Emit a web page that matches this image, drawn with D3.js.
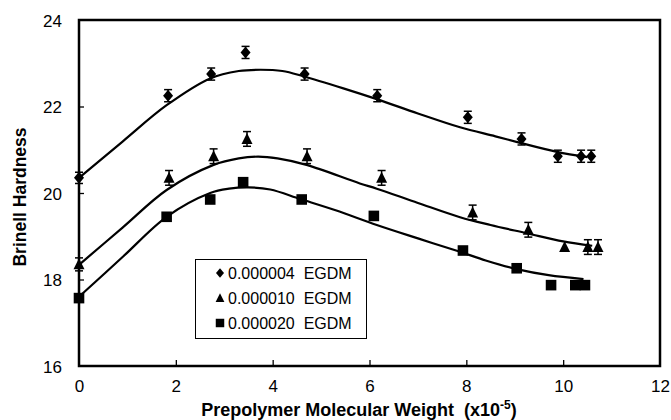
<!DOCTYPE html>
<html><head><meta charset="utf-8">
<script src="https://cdn.jsdelivr.net/npm/d3@7"></script>
<style>body{margin:0;background:#fff}svg{display:block}text{font-family:Arial,"Liberation Sans",sans-serif}</style>
</head><body><svg id="c" width="671" height="420"></svg>
<script>
// ---- data ----
const seriesNames = ["0.000004  EGDM", "0.000010  EGDM", "0.000020  EGDM"];
const xDiamond = [0, 1.84, 2.73, 3.44, 4.66, 6.16, 8.03, 9.14, 9.89, 10.37, 10.58];
const yDiamond = [20.35, 22.25, 22.75, 23.25, 22.75, 22.25, 21.75, 21.25, 20.85, 20.85, 20.85];
const eDiamond = [0.13, 0.14, 0.14, 0.14, 0.14, 0.14, 0.14, 0.14, 0.14, 0.14, 0.14];
const xTriangle = [0, 1.86, 2.78, 3.47, 4.71, 6.25, 8.13, 9.28, 10.03, 10.51, 10.72];
const yTriangle = [18.35, 20.35, 20.85, 21.25, 20.85, 20.35, 19.55, 19.15, 18.75, 18.75, 18.75];
const eTriangle = [0.15, 0.17, 0.17, 0.17, 0.17, 0.17, 0.17, 0.17, 0.0, 0.17, 0.17];
const xSquare = [0, 1.81, 2.71, 3.39, 4.60, 6.09, 7.93, 9.04, 9.75, 10.25, 10.45];
const ySquare = [17.57, 19.45, 19.85, 20.25, 19.85, 19.47, 18.67, 18.26, 17.87, 17.87, 17.87];
// fitted trend curves
const fitXDiamond = [0, 0.9, 1.81, 2.71, 3.3, 3.75, 4.2, 4.63, 5.46, 6.15, 7.0, 7.87, 8.6, 9.11, 9.87, 10.5];
const fitYDiamond = [20.35, 21.19, 22.03, 22.65, 22.82, 22.85, 22.82, 22.7, 22.42, 22.17, 21.84, 21.52, 21.31, 21.16, 20.95, 20.83];
const fitXTriangle = [0, 0.9, 1.81, 2.78, 3.3, 3.7, 4.1, 4.7, 5.8, 6.15, 7.0, 7.87, 8.5, 9.25, 10.0, 10.6];
const fitYTriangle = [18.34, 19.2, 20.07, 20.65, 20.8, 20.84, 20.8, 20.65, 20.22, 20.1, 19.77, 19.44, 19.26, 19.07, 18.88, 18.78];
const fitXSquare = [0, 0.9, 1.81, 2.71, 3.1, 3.5, 3.95, 4.57, 5.3, 6.15, 7.0, 7.87, 8.4, 9.04, 9.7, 10.42];
const fitYSquare = [17.6, 18.52, 19.45, 20.0, 20.1, 20.13, 20.08, 19.86, 19.6, 19.26, 18.95, 18.64, 18.44, 18.24, 18.1, 18.01];
const xTicks = [0, 2, 4, 6, 8, 10, 12];
const yTicks = [16, 18, 20, 22, 24];

// ---- layout ----
const L = 79, R = 660, T = 20, B = 366;
const svg = d3.select("#c");
const x = d3.scaleLinear().domain([0, 12]).range([L, R]);
const y = d3.scaleLinear().domain([16, 24]).range([B, T]);

// axes with inward ticks
const gx = svg.append("g").attr("transform", `translate(0,${B})`)
  .call(d3.axisBottom(x).tickValues(xTicks).tickSizeInner(-6).tickSizeOuter(0).tickPadding(26));
const gy = svg.append("g").attr("transform", `translate(${L},0)`)
  .call(d3.axisLeft(y).tickValues(yTicks).tickSizeInner(-5).tickSizeOuter(0).tickPadding(17));
[gx, gy].forEach(g => {
  g.select(".domain").remove();
  g.selectAll(".tick line").attr("stroke", "#000").attr("stroke-width", 1.3);
  g.selectAll(".tick text").attr("fill", "#000").style("font-size", "17px")
    .style("font-family", "Arial, 'Liberation Sans', sans-serif");
});
gx.selectAll(".tick text").attr("dy", "0");
gy.selectAll(".tick text").attr("dy", "0.36em");
gx.selectAll(".tick").filter(d => d === 0 || d === 12).select("line").remove();
gy.selectAll(".tick").filter(d => d === 16 || d === 24).select("line").remove();

// frame
svg.append("rect").attr("x", L).attr("y", T).attr("width", R - L).attr("height", B - T)
  .attr("fill", "none").attr("stroke", "#000").attr("stroke-width", 2.5);

// curves
const line = d3.line().x(d => x(d[0])).y(d => y(d[1])).curve(d3.curveCatmullRom.alpha(0.5));
[[fitXDiamond, fitYDiamond], [fitXTriangle, fitYTriangle], [fitXSquare, fitYSquare]].forEach(([fx, fy]) => {
  svg.append("path").datum(d3.zip(fx, fy)).attr("d", line)
    .attr("fill", "none").attr("stroke", "#000").attr("stroke-width", 2.2);
});

// marker shapes
function shape(kind, s) {
  if (kind === 0) return `M0,${-6*s}L${5*s},0L0,${6*s}L${-5*s},0Z`;
  if (kind === 1) return `M0,${-6*s}L${5.5*s},${5*s}L${-5.5*s},${5*s}Z`;
  return `M${-5.3*s},${-5.3*s}H${5.3*s}V${5.3*s}H${-5.3*s}Z`;
}

// error bars
function errBars(xs, ys, es) {
  const g = svg.append("g").attr("stroke", "#000").attr("stroke-width", 1.5);
  xs.forEach((xv, i) => {
    const e = es[i]; if (!e) return;
    const cx = x(xv), y1 = y(ys[i] + e), y2 = y(ys[i] - e);
    g.append("line").attr("x1", cx).attr("x2", cx).attr("y1", y1).attr("y2", y2);
    g.append("line").attr("x1", cx - 4).attr("x2", cx + 4).attr("y1", y1).attr("y2", y1);
    g.append("line").attr("x1", cx - 4).attr("x2", cx + 4).attr("y1", y2).attr("y2", y2);
  });
}
errBars(xDiamond, yDiamond, eDiamond);
errBars(xTriangle, yTriangle, eTriangle);

[[xDiamond, yDiamond], [xTriangle, yTriangle], [xSquare, ySquare]].forEach(([xs, ys], k) => {
  svg.append("g").selectAll("path").data(d3.zip(xs, ys)).join("path")
    .attr("d", shape(k, 1)).attr("fill", "#000")
    .attr("transform", d => `translate(${x(d[0])},${y(d[1])})`);
});

// axis titles
svg.append("text").attr("transform", "translate(26,197) rotate(-90)")
  .attr("text-anchor", "middle").style("font-size", "17.5px").style("font-weight", "bold")
  .text("Brinell Hardness");
const xt = svg.append("text").attr("x", 359).attr("y", 416).attr("text-anchor", "middle")
  .style("font-size", "18px").style("font-weight", "bold");
xt.append("tspan").text("Prepolymer Molecular Weight  (x10").attr("xml:space", "preserve").style("white-space", "pre");
xt.append("tspan").text("-5").attr("dy", -7).style("font-size", "12px");
xt.append("tspan").text(")").attr("dy", 7);

// legend
const lg = svg.append("g");
lg.append("rect").attr("x", 195.5).attr("y", 259.5).attr("width", 171).attr("height", 79)
  .attr("fill", "#fff").attr("stroke", "#000").attr("stroke-width", 1);
seriesNames.forEach((nm, i) => {
  const cy = 273 + i * 25;
  lg.append("path").attr("d", shape(i, 0.8)).attr("fill", "#000").attr("transform", `translate(220,${cy})`);
  lg.append("text").attr("x", 228).attr("y", cy).attr("dy", "0.36em")
    .style("font-size", "16px").style("white-space", "pre").text(nm);
});
</script></body></html>
